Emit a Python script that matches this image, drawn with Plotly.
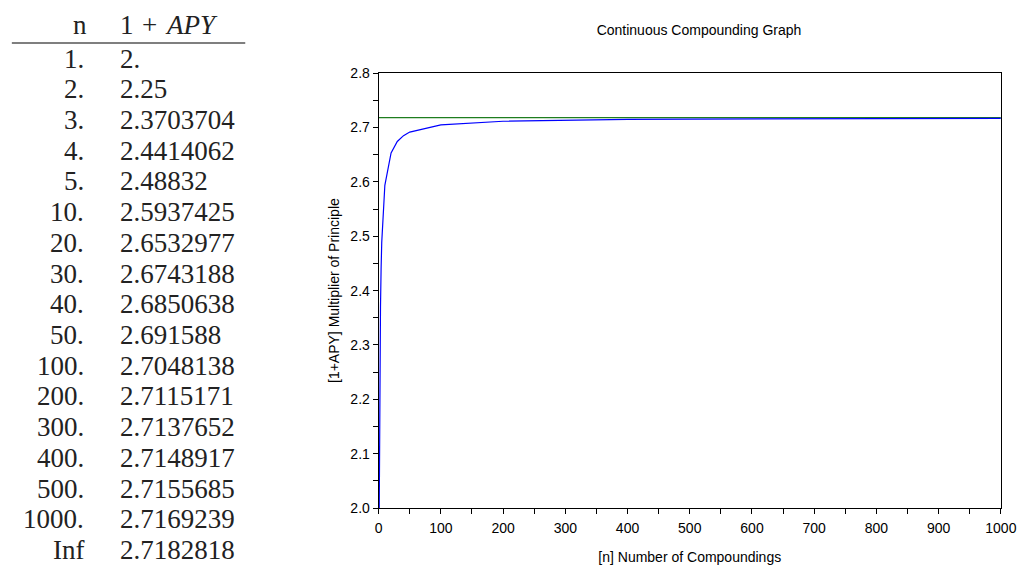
import plotly.graph_objects as go

# ---- data ----
n_labels = ["1.", "2.", "3.", "4.", "5.", "10.", "20.", "30.", "40.", "50.",
            "100.", "200.", "300.", "400.", "500.", "1000.", "Inf"]
apy_labels = ["2.", "2.25", "2.3703704", "2.4414062", "2.48832", "2.5937425",
              "2.6532977", "2.6743188", "2.6850638", "2.691588", "2.7048138",
              "2.7115171", "2.7137652", "2.7148917", "2.7155685", "2.7169239",
              "2.7182818"]
n_values = [1, 2, 3, 4, 5, 10, 20, 30, 40, 50, 100, 200, 300, 400, 500, 1000]
apy_values = [2.0, 2.25, 2.3703704, 2.4414062, 2.48832, 2.5937425, 2.6532977,
              2.6743188, 2.6850638, 2.691588, 2.7048138, 2.7115171, 2.7137652,
              2.7148917, 2.7155685, 2.7169239]
limit_x = [0, 1000]
limit_y = [2.7182818, 2.7182818]

W, H = 1036, 571


def px(x):
    return x / W


def py(y):
    return 1 - y / H


fig = go.Figure()
fig.add_trace(go.Scatter(x=limit_x, y=limit_y, mode="lines",
                         line=dict(color="#1e7d1e", width=1.2), showlegend=False))
fig.add_trace(go.Scatter(x=n_values, y=apy_values, mode="lines",
                         line=dict(color="#0000ff", width=1.2), showlegend=False))

tick_font = dict(family="Liberation Sans, Arial, sans-serif", size=14, color="black")

fig.update_layout(
    width=W, height=H,
    margin=dict(l=0, r=0, t=0, b=0),
    paper_bgcolor="white", plot_bgcolor="white",
    title=dict(text="Continuous Compounding Graph", x=px(699), y=py(30),
               xanchor="center", yanchor="middle",
               font=dict(family="Liberation Sans, Arial, sans-serif", size=14, color="black")),
    xaxis=dict(domain=[px(382), px(1016.5)], range=[0, 1000], dtick=100,
               showgrid=False, zeroline=False, showline=True, linecolor="black",
               linewidth=1, mirror=True, ticks="outside", ticklen=5, tickcolor="black",
               minor=dict(dtick=50, ticks="outside", ticklen=5, tickcolor="black"),
               tickfont=tick_font, ticklabelstandoff=2,
               title=dict(text="[n] Number of Compoundings", font=tick_font, standoff=17)),
    yaxis=dict(domain=[py(514.5), py(67)], range=[2.0, 2.8], dtick=0.1, tickformat=".1f",
               showgrid=False, zeroline=False, showline=True, linecolor="black",
               linewidth=1, mirror=True, ticks="outside", ticklen=5, tickcolor="black",
               minor=dict(dtick=0.05, ticks="outside", ticklen=5, tickcolor="black"),
               tickfont=tick_font,
               title=dict(text="[1+APY] Multiplier of Principle", font=tick_font, standoff=7)),
)

serif = dict(family="Liberation Serif, Times New Roman, serif", size=27, color="#222222")

# table header
hy = py(18)
fig.add_annotation(text="n", x=px(77), y=hy, xref="paper", yref="paper",
                   xanchor="center", yanchor="middle", showarrow=False, font=serif)
fig.add_annotation(text="1", x=px(116), y=hy, xref="paper", yref="paper",
                   xanchor="left", yanchor="middle", showarrow=False, font=serif)
fig.add_annotation(text="+", x=px(148), y=hy, xref="paper", yref="paper",
                   xanchor="center", yanchor="middle", showarrow=False, font=serif)
fig.add_annotation(text="<i>APY</i>", x=px(162), y=hy, xref="paper", yref="paper",
                   xanchor="left", yanchor="middle", showarrow=False, font=serif)
fig.add_shape(type="line", xref="paper", yref="paper", x0=px(8), x1=px(246),
              y0=py(36), y1=py(36), line=dict(color="black", width=1.2))

row0, step = 52, 31.6
for i, (a, b) in enumerate(zip(n_labels, apy_labels)):
    yy = py(row0 + step * i)
    fig.add_annotation(text=a, x=px(84), y=yy, xref="paper", yref="paper",
                       xanchor="right", yanchor="middle", showarrow=False, font=serif)
    fig.add_annotation(text=b, x=px(116), y=yy, xref="paper", yref="paper",
                       xanchor="left", yanchor="middle", showarrow=False, font=serif)

fig.write_html("out.html", config={"displayModeBar": False},
               post_script="document.body.style.margin='0';")
